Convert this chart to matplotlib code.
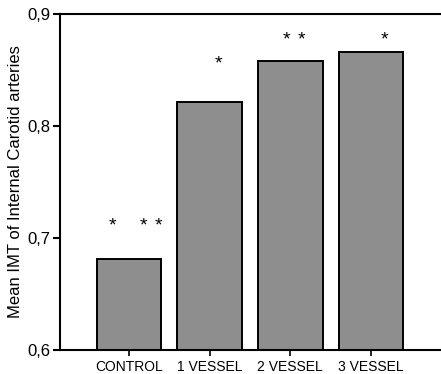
import matplotlib
matplotlib.use("Agg")
import matplotlib.pyplot as plt
import numpy as np

groups = ["CONTROL", "1 VESSEL", "2 VESSEL", "3 VESSEL"]
imt = [0.681, 0.821, 0.858, 0.866]
# significance stars: offsets of each star from bar centre
star_dx = [[-0.2, 0.18, 0.37], [0.11], [-0.05, 0.14], [0.17]]
star_y = [0.711, 0.855, 0.877, 0.877]
yticks = [0.6, 0.7, 0.8, 0.9]

plt.rcParams['font.family'] = ['Liberation Sans', 'DejaVu Sans']

fig = plt.figure(figsize=(4.41, 3.74), dpi=100)
ax = fig.add_axes([0.136, 0.0642, 0.874, 0.8984])

x = np.arange(len(groups))
ax.bar(x, imt, width=0.8, color="#8e8e8e", edgecolor="black", linewidth=1.4)

for i, offs in enumerate(star_dx):
    for d in offs:
        ax.text(x[i] + d, star_y[i], "*", ha="center", va="center", fontsize=14)

ax.set_xlim(-0.853, 3.92)
ax.set_ylim(0.6, 0.9)
ax.set_xticks(x)
ax.set_xticklabels(groups, fontsize=10)
ax.set_yticks(yticks)
ax.set_yticklabels([f"{v:.1f}".replace(".", ",") for v in yticks], fontsize=12)
ax.set_ylabel("Mean IMT of Internal Carotid arteries", fontsize=12, labelpad=3)

for s in ["left", "bottom", "top"]:
    ax.spines[s].set_linewidth(1.5)
ax.spines["right"].set_visible(False)
ax.tick_params(axis="y", direction="out", length=5, width=1.5, pad=2)
ax.tick_params(axis="x", direction="out", length=4, width=1.2, pad=3)

plt.savefig("out.png", dpi=100)
